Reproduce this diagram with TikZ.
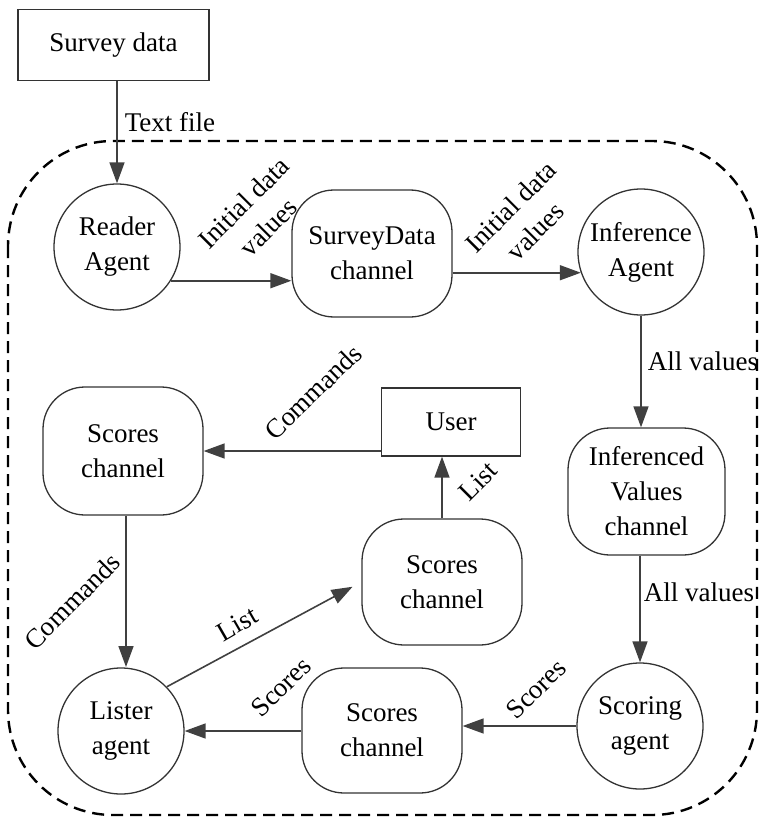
\documentclass[tikz,border=0pt]{standalone}
\usepackage{fontspec}
\setmainfont{Liberation Serif}
\usetikzlibrary{arrows.meta,shapes.geometric}
\begin{document}
\begin{tikzpicture}[x=1pt,y=-1pt,
  every node/.style={font=\fontsize{27}{35}\selectfont, inner sep=0pt, align=center},
  boxnode/.style={draw=black!80, line width=1.3pt, rectangle},
  agentnode/.style={draw=black!80, line width=1.3pt, circle, minimum size=126pt},
  chan/.style={draw=black!80, line width=1.3pt, rectangle, rounded corners=42pt},
  arr/.style={draw=black!75, line width=1.6pt, -{Triangle[length=21pt,width=15pt]}},
  lbl/.style={fill=none},
  boundary/.style={draw=black, line width=2.4pt, dash pattern=on 12pt off 7pt}
]
\useasboundingbox (0,0) rectangle (763,818);

% system boundary
\draw[boundary, rounded corners=105pt] (8,141) rectangle (757,815);

% external entities
\node[boxnode, minimum width=191pt, minimum height=71pt] (sd) at (113.5,45) {Survey data};
\node[boxnode, minimum width=139pt, minimum height=68pt] (user) at (451,422) {User};

% agents
\node[agentnode] (reader) at (117,247) {Reader\\Agent};
\node[agentnode] (inf) at (641,252) {Inference\\Agent};
\node[agentnode] (sco) at (640,726) {Scoring\\agent};
\node[agentnode] (lis) at (121,731) {Lister\\agent};

% channels
\node[chan, minimum width=160pt, minimum height=127pt] (sdc) at (372,253.5) {SurveyData\\channel};
\node[chan, minimum width=157pt, minimum height=127pt] (ivc) at (646.5,491.5) {Inferenced\\Values\\channel};
\node[chan, minimum width=160pt, minimum height=125pt] (bsc) at (382,730.5) {Scores\\channel};
\node[chan, minimum width=160pt, minimum height=128pt] (lsc) at (123,451) {Scores\\channel};
\node[chan, minimum width=160pt, minimum height=126pt] (msc) at (442,582) {Scores\\channel};

% data flows
\draw[arr] (reader.north |- sd.south) -- (reader.north);
\draw[arr] (reader.-32) -- (reader.-32 -| sdc.west);
\draw[arr] (sdc.east |- inf.-161) -- (inf.-161);
\draw[arr] (inf.south) -- (inf.south |- ivc.north);
\draw[arr] (ivc.south -| sco.north) -- (sco.north);
\draw[arr] (sco.west) -- (sco.west -| bsc.east);
\draw[arr] (bsc.west |- lis.east) -- (lis.east);
\draw[arr] (user.west |- lsc.east) -- (lsc.east);
\draw[arr] (lsc.south -| 126,0) -- (126,667);
\draw[arr] (msc.north) -- (msc.north |- user.south);
\draw[arr, shorten >=10pt] (lis.44) -- (msc.west);

% flow labels
\node[lbl] (t1) at (170,122) {Text file};
\node[lbl, rotate=45] (t2) at (256,215) {Initial data\\values};
\node[lbl, rotate=45] (t3) at (523,219) {Initial data\\values};
\node[lbl] (t4) at (703,361) {All values};
\node[lbl] (t5) at (699,592) {All values};
\node[lbl, rotate=44] (t6) at (313,392) {Commands};
\node[lbl, rotate=45] (t7) at (478,481) {List};
\node[lbl, rotate=45] (t8) at (72,601) {Commands};
\node[lbl, rotate=30] (t9) at (237,624) {List};
\node[lbl, rotate=44] (t10) at (281,687) {Scores};
\node[lbl, rotate=44] (t11) at (536,689) {Scores};
\end{tikzpicture}
\end{document}
